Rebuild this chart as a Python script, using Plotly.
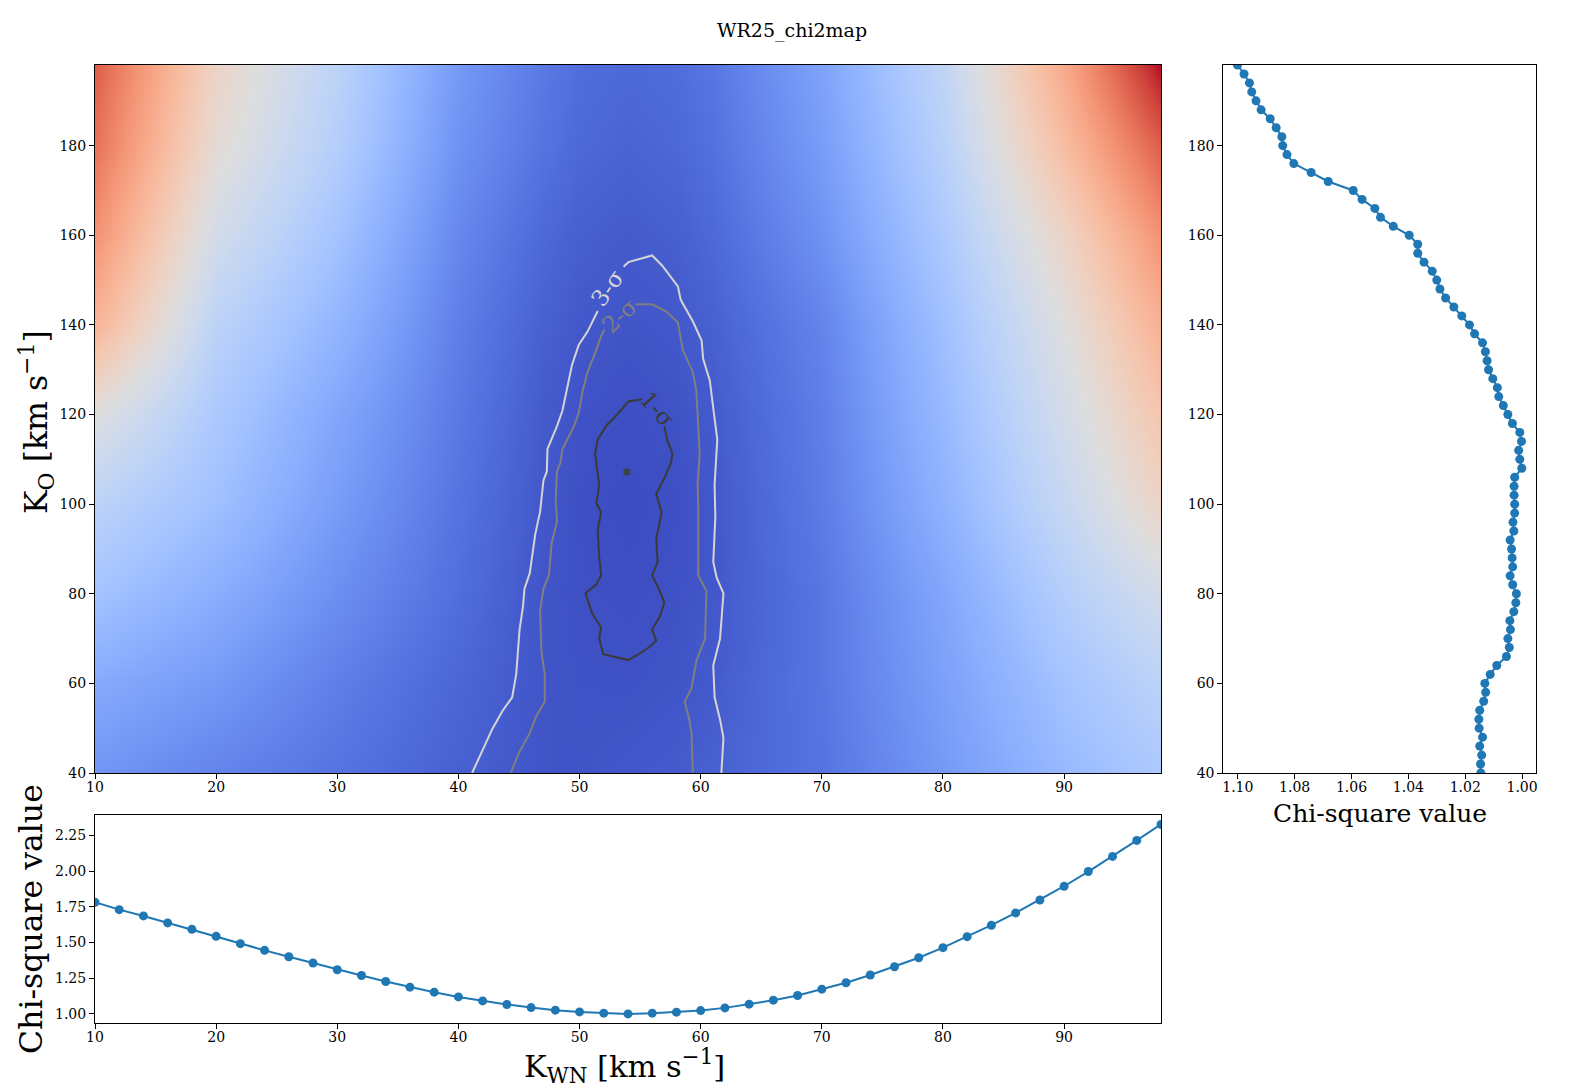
import plotly.graph_objects as go

# ---------------- data ----------------
# Chi-square slice along K_O (right panel)
ko_values = [40, 42, 44, 46, 48, 50, 52, 54, 56, 58, 60, 62, 64, 66, 68, 70, 72, 74, 76, 78,
             80, 82, 84, 86, 88, 90, 92, 94, 96, 98, 100, 102, 104, 106, 108, 110, 112, 114, 116, 118,
             120, 122, 124, 126, 128, 130, 132, 134, 136, 138, 140, 142, 144, 146, 148, 150, 152, 154, 156, 158,
             160, 162, 164, 166, 168, 170, 172, 174, 176, 178, 180, 182, 184, 186, 188, 190, 192, 194, 196, 198]
chi2_vs_ko = [1.0145, 1.0146, 1.0142, 1.0149, 1.0139, 1.0151, 1.0152, 1.0149, 1.0135, 1.0128,
              1.0131, 1.0112, 1.0089, 1.0055, 1.0045, 1.0050, 1.0041, 1.0043, 1.0029, 1.0022,
              1.0020, 1.0033, 1.0042, 1.0033, 1.0035, 1.0037, 1.0042, 1.0029, 1.0032, 1.0026,
              1.0026, 1.0028, 1.0028, 1.0026, 1.0001, 1.0008, 1.0012, 1.0002, 1.0008, 1.0034,
              1.0050, 1.0066, 1.0082, 1.0087, 1.0103, 1.0118, 1.0123, 1.0129, 1.0139, 1.0167,
              1.0185, 1.0212, 1.0240, 1.0269, 1.0289, 1.0300, 1.0316, 1.0345, 1.0367, 1.0367,
              1.0397, 1.0453, 1.0498, 1.0518, 1.0563, 1.0594, 1.0682, 1.0742, 1.0803, 1.0827,
              1.0842, 1.0845, 1.0865, 1.0886, 1.0918, 1.0936, 1.0951, 1.0959, 1.0978, 1.1001]

# Chi-square slice along K_WN (bottom panel)
kwn_values = [10, 12, 14, 16, 18, 20, 22, 24, 26, 28, 30, 32, 34, 36, 38, 40, 42, 44, 46, 48,
              50, 52, 54, 56, 58, 60, 62, 64, 66, 68, 70, 72, 74, 76, 78, 80, 82, 84, 86, 88,
              90, 92, 94, 96, 98]
chi2_vs_kwn = [1.782, 1.730, 1.686, 1.637, 1.592, 1.543, 1.492, 1.445, 1.400, 1.356,
               1.309, 1.269, 1.227, 1.187, 1.152, 1.119, 1.091, 1.066, 1.044, 1.026,
               1.014, 1.005, 1.000, 1.005, 1.012, 1.023, 1.042, 1.068, 1.096, 1.129,
               1.173, 1.218, 1.272, 1.330, 1.393, 1.464, 1.541, 1.621, 1.707, 1.798,
               1.894, 1.997, 2.103, 2.215, 2.327]

# Coarse chi-square map (estimated from the colours), rows follow map_ko
map_kwn = [10, 20, 30, 40, 47, 50, 54, 58, 61, 70, 80, 90, 98]
map_ko = [40, 60, 80, 100, 120, 140, 160, 180, 198]
chi2_map = [
    [1.420, 1.312, 1.218, 1.109, 1.047, 1.043, 1.062, 1.082, 1.109, 1.218, 1.442, 1.672, 1.816],
    [1.557, 1.442, 1.281, 1.140, 1.047, 1.034, 1.031, 1.046, 1.078, 1.234, 1.485, 1.758, 1.931],
    [1.758, 1.586, 1.377, 1.187, 1.047, 1.024, 1.016, 1.029, 1.062, 1.234, 1.528, 1.874, 2.104],
    [1.931, 1.730, 1.463, 1.218, 1.062, 1.019, 1.000, 1.019, 1.062, 1.264, 1.614, 2.008, 2.344],
    [2.200, 1.816, 1.528, 1.250, 1.078, 1.034, 1.016, 1.034, 1.078, 1.281, 1.672, 2.104, 2.488],
    [2.632, 1.931, 1.643, 1.281, 1.109, 1.065, 1.047, 1.065, 1.109, 1.312, 1.730, 2.200, 2.656],
    [2.848, 2.104, 1.758, 1.334, 1.156, 1.101, 1.078, 1.101, 1.156, 1.398, 1.816, 2.344, 2.848],
    [3.016, 2.258, 1.874, 1.398, 1.218, 1.154, 1.125, 1.149, 1.203, 1.463, 1.902, 2.560, 3.112],
    [3.112, 2.344, 1.931, 1.442, 1.250, 1.185, 1.156, 1.180, 1.234, 1.506, 1.960, 2.704, 3.400],
]

# best-fit point
best_kwn = [53.9]
best_ko = [107.2]

# confidence contours (K_WN, K_O)
c3_left_kwn = [41.13, 41.97, 42.81, 43.65, 44.44, 44.77, 44.88, 45.05, 45.33, 45.45, 45.89, 46.34, 46.57,
               46.74, 47.02, 47.30, 47.35, 47.69, 48.14, 48.59, 48.81, 49.15, 49.37, 49.93, 50.66, 51.50]
c3_left_ko = [40.0, 44.8, 49.9, 53.9, 56.9, 62.0, 67.0, 72.0, 77.1, 81.1, 84.6, 93.2, 96.2,
              98.2, 105.3, 107.3, 112.3, 114.4, 117.4, 120.9, 123.9, 128.5, 131.0, 135.5, 138.5, 143.1]
c3_right_kwn = [53.63, 54.03, 55.99, 56.83, 58.12, 58.35, 59.35, 60.08, 60.20, 60.76, 61.04, 61.37,
                61.15, 61.21, 61.04, 61.32, 61.88, 61.60, 61.04, 61.15, 61.60, 61.88, 61.71]
c3_right_ko = [153.0, 154.0, 155.5, 153.2, 148.6, 145.6, 140.8, 136.5, 132.5, 127.5, 121.4, 114.4,
               104.3, 97.2, 87.1, 83.6, 80.1, 70.0, 64.0, 56.9, 51.9, 47.8, 40.0]

c2_left_kwn = [44.32, 45.05, 45.89, 46.46, 47.13, 47.13, 46.85, 46.74, 47.02, 47.47, 47.69, 48.14,
               48.03, 48.14, 48.42, 48.59, 49.54, 49.93, 50.27, 50.66, 51.39, 51.78, 52.06]
c2_left_ko = [40.0, 44.8, 48.9, 52.9, 55.9, 62.0, 67.0, 76.1, 81.1, 84.1, 91.2, 96.2,
              101.3, 107.3, 109.3, 112.3, 117.4, 120.4, 125.4, 129.5, 134.5, 137.5, 139.0]
c2_right_kwn = [54.59, 55.99, 57.11, 58.12, 58.51, 59.35, 59.64, 59.80, 59.92, 59.75, 59.80, 59.80,
                59.80, 60.48, 60.36, 59.64, 59.24, 58.68, 59.07, 59.24, 59.35]
c2_right_ko = [144.6, 144.6, 143.1, 140.6, 134.5, 129.5, 125.4, 118.4, 111.3, 104.3, 99.2, 91.2,
               84.1, 80.6, 70.0, 65.0, 58.9, 55.9, 51.9, 48.9, 40.0]

c1_kwn = [57.00, 57.22, 57.67, 57.56, 57.00, 56.33, 56.78, 56.33, 56.44, 55.99, 56.55, 57.00,
          56.66, 55.99, 56.33, 55.71, 54.87, 54.03, 51.95, 51.62, 51.78, 51.05, 50.49, 51.39,
          51.78, 51.62, 51.50, 51.78, 51.39, 51.62, 51.28, 51.50, 52.18, 52.90, 54.03, 55.15]
c1_ko = [117.4, 114.4, 111.3, 109.3, 105.8, 102.3, 98.2, 92.2, 87.1, 84.1, 81.1, 78.1,
         75.1, 72.0, 69.5, 68.0, 66.5, 65.2, 66.5, 70.0, 72.5, 75.6, 80.1, 82.1,
         84.1, 88.2, 94.2, 98.2, 100.2, 104.3, 111.3, 114.4, 117.4, 119.4, 122.9, 123.4]

contour_labels = ["3-σ", "2-σ", "1-σ"]
label_kwn = [52.3, 53.3, 56.4]
label_ko = [148.3, 141.9, 121.2]

# ---------------- style ----------------
W, H = 1584, 1089
FONT = "DejaVu Serif"
# matplotlib "coolwarm" (Moreland) reference colours, 33 evenly spaced entries
coolwarm33 = [(59, 76, 192), (68, 90, 204), (77, 104, 215), (87, 117, 225), (98, 130, 234),
              (108, 142, 241), (119, 154, 247), (130, 165, 251), (141, 176, 254), (152, 185, 255),
              (163, 194, 255), (174, 201, 253), (184, 208, 249), (194, 213, 244), (204, 217, 238),
              (213, 219, 230), (221, 221, 221), (229, 216, 209), (236, 211, 197), (241, 204, 184),
              (245, 196, 173), (247, 187, 160), (247, 177, 148), (247, 166, 135), (244, 154, 123),
              (241, 141, 111), (236, 127, 99), (229, 112, 88), (222, 96, 77), (213, 80, 66),
              (203, 62, 56), (192, 40, 47), (180, 4, 38)]
colorscale = [[i / 32, "rgb(%d,%d,%d)" % c] for i, c in enumerate(coolwarm33)]

c3_col, c2_col, c1_col = "#d4d4d4", "#7f7f7f", "#3a3a3a"
blue = "#1f77b4"


def px_x(v):
    return v / W


def px_y(v):
    return 1 - v / H


fig = go.Figure()

fig.add_trace(go.Heatmap(x=map_kwn, y=map_ko, z=chi2_map, zsmooth="best",
                         colorscale=colorscale, zmin=1.0, zmax=3.4, showscale=False,
                         xaxis="x", yaxis="y", hoverinfo="skip"))

for xs, ys, col in [(c3_left_kwn, c3_left_ko, c3_col), (c3_right_kwn, c3_right_ko, c3_col),
                    (c2_left_kwn, c2_left_ko, c2_col), (c2_right_kwn, c2_right_ko, c2_col),
                    (c1_kwn, c1_ko, c1_col)]:
    fig.add_trace(go.Scatter(x=xs, y=ys, mode="lines", line=dict(color=col, width=2),
                             xaxis="x", yaxis="y", showlegend=False, hoverinfo="skip"))

fig.add_trace(go.Scatter(x=best_kwn, y=best_ko, mode="markers",
                         marker=dict(color="#404040", size=7), xaxis="x", yaxis="y",
                         showlegend=False))

fig.add_trace(go.Scatter(x=chi2_vs_ko, y=ko_values, mode="lines+markers",
                         line=dict(color=blue, width=2), marker=dict(color=blue, size=9),
                         xaxis="x2", yaxis="y2", showlegend=False))

fig.add_trace(go.Scatter(x=kwn_values, y=chi2_vs_kwn, mode="lines+markers",
                         line=dict(color=blue, width=2), marker=dict(color=blue, size=9),
                         xaxis="x3", yaxis="y3", showlegend=False))

axis_common = dict(showline=True, linecolor="black", linewidth=1, mirror=True,
                   ticks="outside", ticklen=5, tickwidth=1, tickcolor="black",
                   showgrid=False, zeroline=False, automargin=False,
                   tickfont=dict(family=FONT, size=14, color="black"))
xaxis_extra = dict(ticklabelstandoff=-4)

main_xdom = [px_x(95), px_x(1161)]
main_ydom = [px_y(773), px_y(65)]

fig.update_layout(
    width=W, height=H, autosize=False,
    margin=dict(l=0, r=0, t=0, b=0, pad=0),
    paper_bgcolor="white", plot_bgcolor="white",
    showlegend=False,
    font=dict(family=FONT, color="black"),
    xaxis=dict(domain=main_xdom, range=[10, 98], anchor="y",
               tickvals=[10, 20, 30, 40, 50, 60, 70, 80, 90], **axis_common, **xaxis_extra),
    yaxis=dict(domain=main_ydom, range=[40, 198], anchor="x",
               tickvals=[40, 60, 80, 100, 120, 140, 160, 180], **axis_common),
    xaxis2=dict(domain=[px_x(1223.3), px_x(1536)], range=[1.1051, 0.9951], anchor="y2",
                tickvals=[1.10, 1.08, 1.06, 1.04, 1.02, 1.00], tickformat=".2f",
                **axis_common, **xaxis_extra),
    yaxis2=dict(domain=main_ydom, range=[40, 198], anchor="x2",
                tickvals=[40, 60, 80, 100, 120, 140, 160, 180], **axis_common),
    xaxis3=dict(domain=main_xdom, range=[10, 98], anchor="y3",
                tickvals=[10, 20, 30, 40, 50, 60, 70, 80, 90], **axis_common, **xaxis_extra),
    yaxis3=dict(domain=[px_y(1023.3), px_y(815)], range=[0.934, 2.393], anchor="x3",
                tickvals=[1.00, 1.25, 1.50, 1.75, 2.00, 2.25], tickformat=".2f", **axis_common),
)

annotations = []
# contour labels
label_cols = [c3_col, c2_col, c1_col]
label_angles = [-55, -43, 48]
for t, xk, yk, col, ang in zip(contour_labels, label_kwn, label_ko, label_cols, label_angles):
    annotations.append(dict(text=t, x=xk, y=yk, xref="x", yref="y", showarrow=False,
                            textangle=ang, font=dict(family=FONT, size=23, color=col),
                            xanchor="center", yanchor="middle"))
# title and axis labels
annotations += [
    dict(text="WR25_chi2map", x=0.5, y=px_y(30), xref="paper", yref="paper", showarrow=False,
         font=dict(family=FONT, size=19, color="black"), xanchor="center", yanchor="middle"),
    dict(text="K<sub>O</sub> [km s<sup>−1</sup>]", x=px_x(36), y=px_y(422), xref="paper",
         yref="paper", showarrow=False, textangle=-90,
         font=dict(family=FONT, size=31.5, color="black"), xanchor="center", yanchor="middle"),
    dict(text="Chi-square value", x=px_x(31), y=px_y(919), xref="paper", yref="paper",
         showarrow=False, textangle=-90, font=dict(family=FONT, size=31.5, color="black"),
         xanchor="center", yanchor="middle"),
    dict(text="K<sub>WN</sub> [km s<sup>−1</sup>]", x=px_x(624), y=px_y(1066), xref="paper",
         yref="paper", showarrow=False, font=dict(family=FONT, size=30.5, color="black"),
         xanchor="center", yanchor="middle"),
    dict(text="Chi-square value", x=px_x(1380), y=px_y(813), xref="paper", yref="paper",
         showarrow=False, font=dict(family=FONT, size=25, color="black"),
         xanchor="center", yanchor="middle"),
]
fig.update_layout(annotations=annotations)

fig.write_html("out.html")
